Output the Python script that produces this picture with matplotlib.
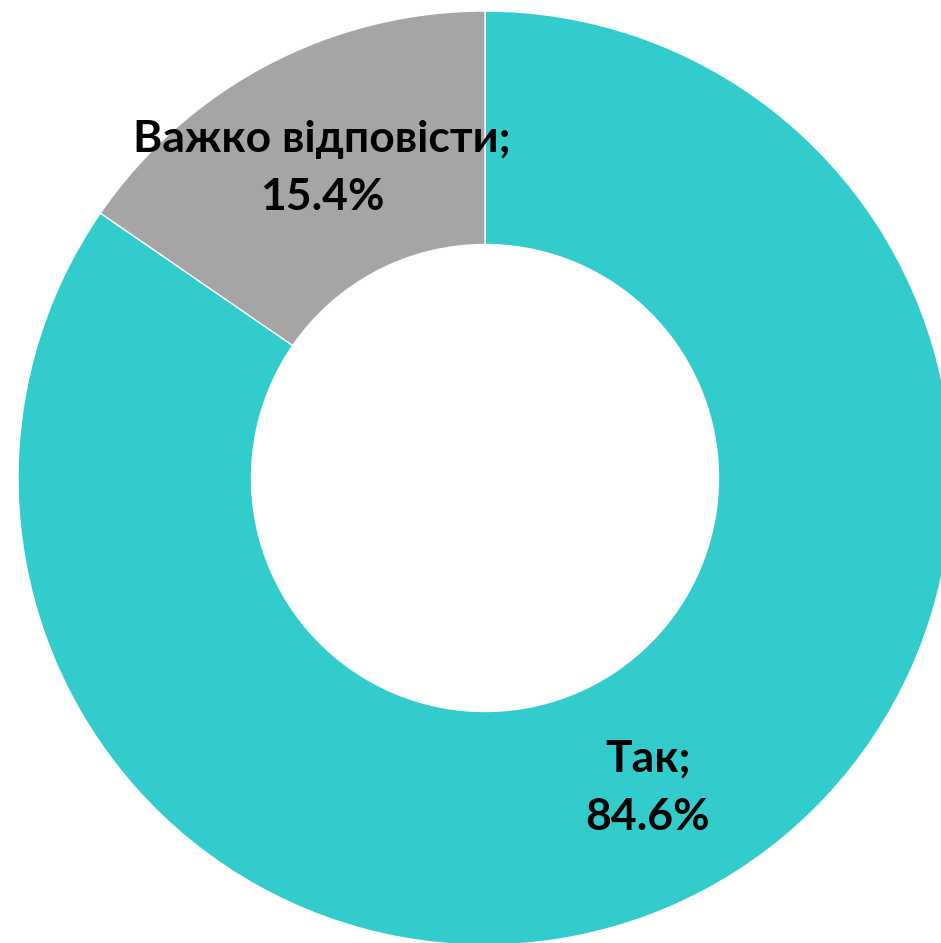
import matplotlib
matplotlib.use('Agg')
import matplotlib.pyplot as plt

labels = ['Так', 'Важко відповісти']
values = [84.6, 15.4]
colors = ['#33CCCC', '#A5A5A5']

fig = plt.figure(figsize=(9.41, 9.43), dpi=100)
ax = fig.add_axes([0, 0, 1, 1])

texts = [f'{l};\n{v}%' for l, v in zip(labels, values)]
wedges, txts = ax.pie(values, labels=texts, colors=colors, startangle=90,
                      counterclock=False, radius=1.0, labeldistance=0.75,
                      wedgeprops=dict(width=0.5, edgecolor='white', linewidth=1),
                      textprops=dict(fontsize=32, fontweight='bold', family='Lato',
                                     ha='center', va='center', linespacing=1.55))
for t in txts:
    t.set_horizontalalignment('center')
    t.set_verticalalignment('center')

ax.set_aspect('equal')
ax.set_xlim(-485 / 467, 456 / 467)
ax.set_ylim(-465 / 467, 478 / 467)
ax.axis('off')

fig.savefig('out.png', dpi=100)
